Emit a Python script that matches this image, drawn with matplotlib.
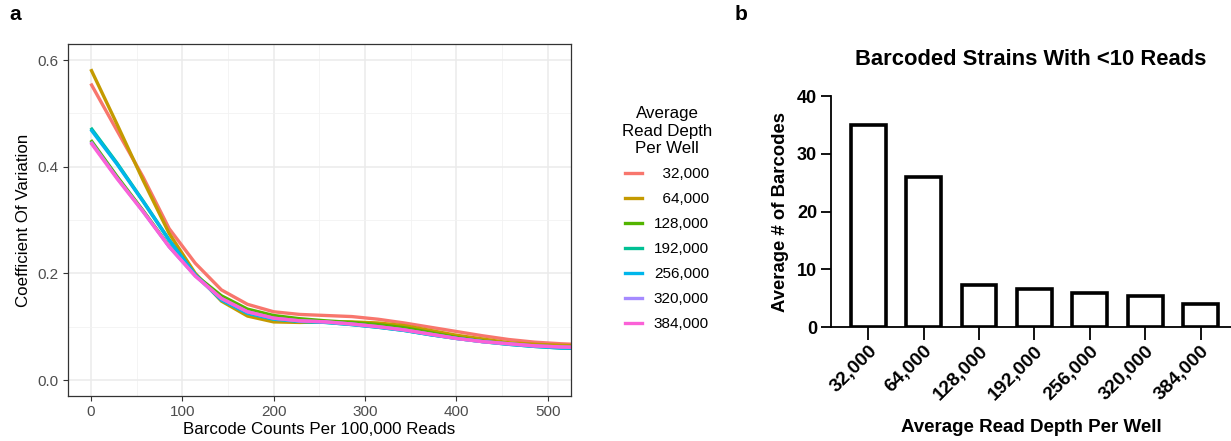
"""
Panel a: CV vs barcode counts per read depth; panel b: barcodes with <10 reads
"""
import matplotlib
matplotlib.use('Agg')
import matplotlib.pyplot as plt
from matplotlib.lines import Line2D

plt.rcParams['font.family'] = ['Liberation Sans', 'DejaVu Sans']

# ---- data ----
depth_labels = ['32,000', '64,000', '128,000', '192,000', '256,000', '320,000', '384,000']
depth_colors = ['#F8766D', '#C49A00', '#53B400', '#00C094', '#00B6EB', '#A58AFF', '#FB61D7']

barcode_counts = [0, 28.6, 57.1, 85.7, 114.3, 142.9, 171.4, 200, 228.6, 257.1,
                  285.7, 314.3, 342.9, 371.4, 400, 428.6, 457.1, 485.7, 514.3, 542.9]

cv_32k = [0.556, 0.468, 0.381, 0.284, 0.219, 0.169, 0.142, 0.128, 0.123, 0.121,
          0.119, 0.114, 0.107, 0.099, 0.091, 0.083, 0.076, 0.071, 0.068, 0.066]
cv_64k = [0.583, 0.480, 0.375, 0.275, 0.200, 0.148, 0.120, 0.109, 0.108, 0.109,
          0.109, 0.107, 0.102, 0.093, 0.084, 0.077, 0.070, 0.067, 0.065, 0.064]
cv_128k = [0.450, 0.382, 0.318, 0.251, 0.197, 0.158, 0.133, 0.121, 0.115, 0.111,
           0.108, 0.104, 0.098, 0.089, 0.080, 0.073, 0.068, 0.064, 0.062, 0.061]
cv_192k = [0.473, 0.407, 0.336, 0.263, 0.197, 0.151, 0.126, 0.115, 0.110, 0.108,
           0.104, 0.099, 0.093, 0.085, 0.078, 0.072, 0.067, 0.063, 0.060, 0.059]
cv_256k = [0.470, 0.405, 0.335, 0.262, 0.197, 0.150, 0.125, 0.114, 0.110, 0.108,
           0.104, 0.099, 0.093, 0.085, 0.078, 0.072, 0.067, 0.063, 0.060, 0.059]
cv_320k = [0.447, 0.379, 0.316, 0.250, 0.195, 0.153, 0.128, 0.116, 0.111, 0.109,
           0.105, 0.100, 0.094, 0.086, 0.078, 0.072, 0.068, 0.064, 0.062, 0.061]
cv_384k = [0.445, 0.378, 0.316, 0.250, 0.195, 0.153, 0.128, 0.116, 0.111, 0.109,
           0.105, 0.100, 0.094, 0.086, 0.078, 0.072, 0.068, 0.064, 0.062, 0.061]
cv_series = [cv_32k, cv_64k, cv_128k, cv_192k, cv_256k, cv_320k, cv_384k]

bar_values = [35.0, 26.05, 7.4, 6.6, 5.9, 5.5, 4.0]

# ---- figure ----
fig = plt.figure(figsize=(12.31, 4.41), dpi=100)

# panel a (ggplot theme_bw look)
ax = fig.add_axes([0.0552, 0.102, 0.4084, 0.798])
for vals, col, lab in zip(cv_series, depth_colors, depth_labels):
    ax.plot(barcode_counts, vals, color=col, lw=2.4, label=lab, solid_capstyle='butt')

ax.set_xlim(-25, 525)
ax.set_ylim(-0.03, 0.63)
ax.set_xticks([0, 100, 200, 300, 400, 500])
ax.set_xticks([50, 150, 250, 350, 450], minor=True)
ax.set_yticks([0.0, 0.2, 0.4, 0.6])
ax.set_yticklabels(['0.0', '0.2', '0.4', '0.6'])
ax.set_yticks([0.1, 0.3, 0.5], minor=True)
ax.grid(True, which='major', color='#EBEBEB', lw=1.1)
ax.grid(True, which='minor', color='#F2F2F2', lw=0.6)
ax.set_axisbelow(True)
for s in ax.spines.values():
    s.set_color('#333333')
    s.set_linewidth(0.9)
ax.tick_params(which='major', length=3.5, width=0.8, color='#333333',
               labelsize=11, labelcolor='#4D4D4D', pad=3)
ax.tick_params(which='minor', length=0)
ax.set_xlabel('Barcode Counts Per 100,000 Reads', fontsize=12.2, labelpad=2)
ax.set_ylabel('Coefficient Of Variation', fontsize=12.2, labelpad=5)

# legend: labels right aligned with figure spaces
handles = [Line2D([], [], color=c, lw=2.4) for c in depth_colors]
pad_labels = [('\u2007' * (7 - len(l))) + l for l in depth_labels]
leg = fig.legend(handles, pad_labels, title='Average\nRead Depth\nPer Well',
                 loc='upper left', bbox_to_anchor=(0.494, 0.79), frameon=False,
                 fontsize=11, title_fontsize=12.2, handlelength=1.15,
                 handletextpad=0.75, labelspacing=0.72)
leg.get_title().set_multialignment('center')

fig.text(0.008, 0.955, 'a', fontsize=15, fontweight='bold')
fig.text(0.597, 0.955, 'b', fontsize=15, fontweight='bold')

# panel b (Prism look)
bx = fig.add_axes([0.675, 0.2578, 0.325, 0.5245])
xpos = list(range(len(bar_values)))
bx.bar(xpos, bar_values, width=0.63, facecolor='white', edgecolor='black', lw=2.6)
bx.set_xlim(-0.675, 6.55)
bx.set_ylim(0, 40)
bx.set_yticks([0, 10, 20, 30, 40])
bx.set_xticks(xpos)
bx.set_xticklabels(depth_labels)
for s in ['top', 'right']:
    bx.spines[s].set_visible(False)
for s in ['left', 'bottom']:
    bx.spines[s].set_linewidth(1.3)
bx.spines['left'].set_bounds(0, 40)
bx.tick_params(axis='y', length=7, width=1.3, labelsize=13, pad=3)
bx.tick_params(axis='x', length=9, width=1.3, labelsize=13.8, pad=2, labelrotation=45)
for t in bx.get_xticklabels():
    t.set_ha('right')
    t.set_rotation_mode('anchor')
for t in bx.get_xticklabels() + bx.get_yticklabels():
    t.set_fontweight('bold')
bx.set_ylabel('Average # of Barcodes', fontsize=13.3, fontweight='bold', labelpad=6)
bx.set_xlabel('Average Read Depth Per Well', fontsize=13.5, fontweight='bold', labelpad=11)
bx.set_title('Barcoded Strains With <10 Reads', fontsize=15.8, fontweight='bold', pad=22)

plt.savefig('out.png', dpi=100)
